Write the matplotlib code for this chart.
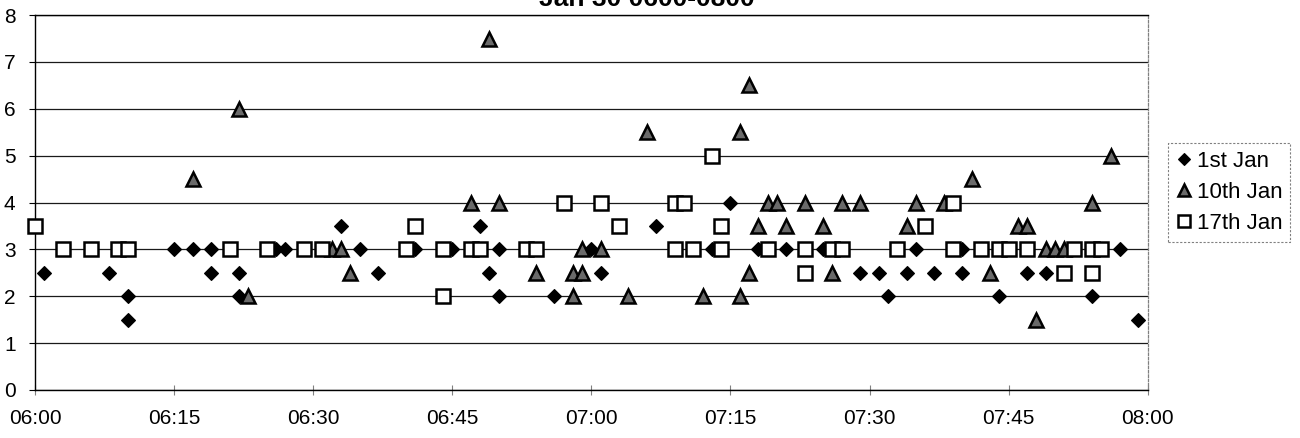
import pandas as pd
import matplotlib
matplotlib.use('Agg')
import matplotlib.pyplot as plt
import matplotlib.dates as mdates

# 字体：Arial 的替代品
plt.rcParams['font.family'] = ['Liberation Sans', 'DejaVu Sans']

DAY = '2000-01-30 '
TITLE = 'Jan 30 0600-0800'

# 1st Jan (黑色菱形)
jan1_time = ['06:01', '06:08', '06:10', '06:10', '06:15', '06:17', '06:19', '06:19',
             '06:22', '06:22', '06:26', '06:27', '06:33', '06:35', '06:37', '06:41',
             '06:45', '06:48', '06:49', '06:50', '06:50', '06:56', '07:00', '07:01',
             '07:07', '07:13', '07:15', '07:18', '07:21', '07:25', '07:29', '07:31',
             '07:32', '07:34', '07:35', '07:37', '07:40', '07:40', '07:44', '07:47',
             '07:49', '07:54', '07:57', '07:59']
jan1_value = [2.5, 2.5, 2.0, 1.5, 3, 3, 3, 2.5,
              2.5, 2.0, 3, 3, 3.5, 3, 2.5, 3,
              3, 3.5, 2.5, 3, 2, 2, 3, 2.5,
              3.5, 3, 4, 3, 3, 3, 2.5, 2.5,
              2, 2.5, 3, 2.5, 3, 2.5, 2, 2.5,
              2.5, 2, 3, 1.5]

# 10th Jan (灰色三角)
jan10_time = ['06:17', '06:22', '06:23', '06:32', '06:33', '06:34', '06:47', '06:49',
              '06:50', '06:54', '06:58', '06:58', '06:59', '06:59', '07:01', '07:04',
              '07:06', '07:12', '07:16', '07:16', '07:17', '07:17', '07:18', '07:19',
              '07:20', '07:21', '07:23', '07:25', '07:26', '07:27', '07:29', '07:34',
              '07:35', '07:38', '07:41', '07:43', '07:46', '07:47', '07:48', '07:49',
              '07:50', '07:51', '07:54', '07:56']
jan10_value = [4.5, 6.0, 2.0, 3.0, 3.0, 2.5, 4.0, 7.5,
               4.0, 2.5, 2.5, 2.0, 2.5, 3.0, 3.0, 2.0,
               5.5, 2.0, 5.5, 2.0, 6.5, 2.5, 3.5, 4.0,
               4.0, 3.5, 4.0, 3.5, 2.5, 4.0, 4.0, 3.5,
               4.0, 4.0, 4.5, 2.5, 3.5, 3.5, 1.5, 3.0,
               3.0, 3.0, 4.0, 5.0]

# 17th Jan (白色方块)
jan17_time = ['06:00', '06:03', '06:06', '06:09', '06:10', '06:21', '06:25', '06:29',
              '06:31', '06:40', '06:41', '06:44', '06:44', '06:47', '06:48', '06:53',
              '06:54', '06:57', '07:01', '07:03', '07:09', '07:09', '07:10', '07:11',
              '07:13', '07:14', '07:14', '07:19', '07:23', '07:23', '07:26', '07:27',
              '07:33', '07:36', '07:39', '07:39', '07:42', '07:44', '07:45', '07:47',
              '07:51', '07:52', '07:54', '07:54', '07:55']
jan17_value = [3.5, 3, 3, 3, 3, 3, 3, 3,
               3, 3, 3.5, 3, 2, 3, 3, 3,
               3, 4, 4, 3.5, 4, 3, 4, 3,
               5, 3.5, 3, 3, 3, 2.5, 3, 3,
               3, 3.5, 4, 3, 3, 3, 3, 3,
               2.5, 3, 3, 2.5, 3]


def to_dt(times):
    return pd.to_datetime([DAY + t for t in times])


fig = plt.figure(figsize=(13, 4.38), dpi=100)
ax = fig.add_axes([0.0269, 0.1096, 0.856, 0.856])

ax.plot(to_dt(jan1_time), jan1_value, linestyle='none', marker='D', ms=7.4,
        mfc='black', mec='black', mew=0.8, label='1st Jan', zorder=3, clip_on=False)
ax.plot(to_dt(jan10_time), jan10_value, linestyle='none', marker='^', ms=10,
        mfc='#6a6a6a', mec='black', mew=1.8, label='10th Jan', zorder=4, clip_on=False)
ax.plot(to_dt(jan17_time), jan17_value, linestyle='none', marker='s', ms=9.6,
        mfc='white', mec='black', mew=1.8, label='17th Jan', zorder=5, clip_on=False)

# 坐标轴范围和刻度
ax.set_xlim(pd.Timestamp(DAY + '06:00'), pd.Timestamp(DAY + '08:00'))
ax.set_ylim(0, 8)
ax.set_yticks(range(0, 9))
ax.xaxis.set_major_locator(mdates.MinuteLocator(byminute=[0, 15, 30, 45]))
ax.xaxis.set_major_formatter(mdates.DateFormatter('%H:%M'))

ax.yaxis.grid(True, color='#1a1a1a', linewidth=0.9)
ax.set_axisbelow(True)

for side in ['left', 'bottom', 'top']:
    ax.spines[side].set_color('black')
    ax.spines[side].set_linewidth(1.0)
ax.spines['right'].set_color('#808080')
ax.spines['right'].set_linestyle((0, (2, 1.5)))
ax.spines['right'].set_linewidth(0.9)

ax.tick_params(axis='y', direction='out', length=4, width=0.8, pad=10, labelsize=15)
ax.tick_params(axis='x', direction='inout', length=7, width=0.8, color='#808080',
               pad=10, labelsize=15)

# 标题（原图顶部被裁掉大半）
fig.text(0.4977, 1 - 6 / 438, TITLE, ha='center', va='baseline',
         fontsize=19, fontweight='bold')

leg = fig.legend(loc='upper left', bbox_to_anchor=(1168 / 1300, 1 - 143 / 438),
                 bbox_transform=fig.transFigure, fontsize=16, markerscale=0.85,
                 handlelength=0.7, handletextpad=0.25, labelspacing=0.45,
                 borderpad=0.35, fancybox=False, framealpha=1, borderaxespad=0)
leg.get_frame().set_edgecolor('#808080')
leg.get_frame().set_linestyle((0, (2, 1.5)))
leg.get_frame().set_linewidth(0.8)

fig.savefig('out.png', dpi=100)
